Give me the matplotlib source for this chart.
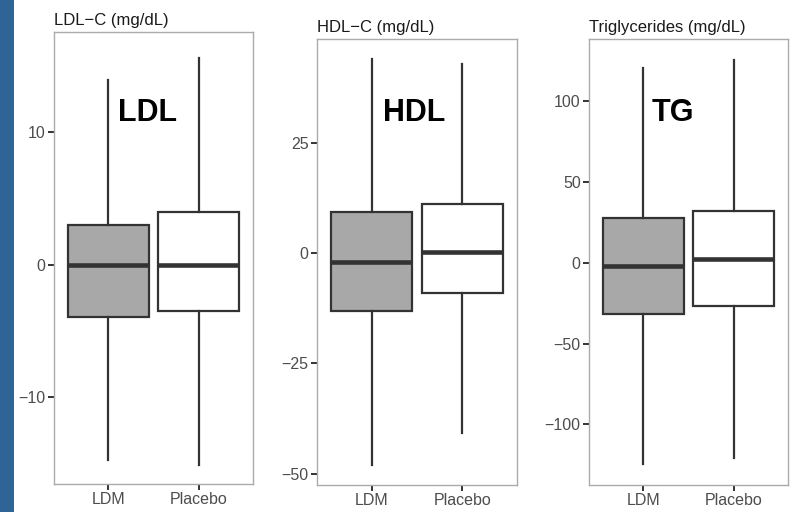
import matplotlib
matplotlib.use("Agg")
import matplotlib.pyplot as plt
from matplotlib.patches import Rectangle

plt.rcParams['font.family'] = ['Liberation Sans', 'DejaVu Sans']

groups = ["LDM", "Placebo"]
group_fills = ["#A8A8A8", "#FFFFFF"]

# five-number summaries: whisker low, Q1, median, Q3, whisker high
ldl_ldm = [-14.8, -4.0, 0.0, 3.0, 14.0]
ldl_placebo = [-15.2, -3.5, 0.0, 4.0, 15.6]
hdl_ldm = [-48.0, -13.2, -2.0, 9.3, 44.0]
hdl_placebo = [-40.8, -9.1, 0.3, 11.1, 42.8]
tg_ldm = [-124.6, -31.6, -1.7, 27.6, 120.5]
tg_placebo = [-121.0, -26.4, 2.5, 32.4, 126.0]

titles = ["LDL\u2212C (mg/dL)", "HDL\u2212C (mg/dL)", "Triglycerides (mg/dL)"]
tags = ["LDL", "HDL", "TG"]
yticks = [[-10, 0, 10], [-50, -25, 0, 25], [-100, -50, 0, 50, 100]]
ylims = [(-16.6, 17.6), (-52.6, 48.5), (-137.5, 138.7)]
tag_pos = [(1.43, 10.9), (1.47, 29.9), (1.33, 87.9)]
summaries = [(ldl_ldm, ldl_placebo), (hdl_ldm, hdl_placebo), (tg_ldm, tg_placebo)]

fig = plt.figure(figsize=(7.95, 5.12), dpi=100)
fig.patches.append(Rectangle((0, 0), 14 / 795, 1, transform=fig.transFigure,
                             facecolor="#2F6497", edgecolor="none", zorder=0))

axes_rects = [
    (54 / 795, 1 - 484 / 512, 199 / 795, 452 / 512),
    (317 / 795, 1 - 485 / 512, 200 / 795, 446 / 512),
    (589 / 795, 1 - 485 / 512, 199 / 795, 446 / 512),
]

edge = "#333333"
for i, rect in enumerate(axes_rects):
    ax = fig.add_axes(rect)
    stats = []
    for name, s in zip(groups, summaries[i]):
        stats.append(dict(label=name, whislo=s[0], q1=s[1], med=s[2],
                          q3=s[3], whishi=s[4], fliers=[]))
    bp = ax.bxp(stats, positions=[1, 2], widths=0.9, showcaps=False,
                showfliers=False, patch_artist=True,
                boxprops=dict(edgecolor=edge, linewidth=1.6),
                whiskerprops=dict(color=edge, linewidth=1.6),
                medianprops=dict(color=edge, linewidth=3.3))
    for patch, fc in zip(bp["boxes"], group_fills):
        patch.set_facecolor(fc)
    ax.set_xlim(0.4, 2.6)
    ax.set_ylim(*ylims[i])
    ax.set_yticks(yticks[i])
    ax.set_xticks([1, 2])
    ax.set_xticklabels(groups)
    for sp in ax.spines.values():
        sp.set_color("#ABABAB")
        sp.set_linewidth(1.0)
    ax.tick_params(axis="both", colors="#333333", labelcolor="#4D4D4D",
                   labelsize=11.5, length=4, width=1.4, pad=2)
    ax.set_title(titles[i], loc="left", fontsize=12, color="#1A1A1A", pad=5)
    ax.text(tag_pos[i][0], tag_pos[i][1], tags[i], ha="center", va="baseline",
            fontsize=22, fontweight="bold", color="black")

fig.savefig("out.png", dpi=100)
